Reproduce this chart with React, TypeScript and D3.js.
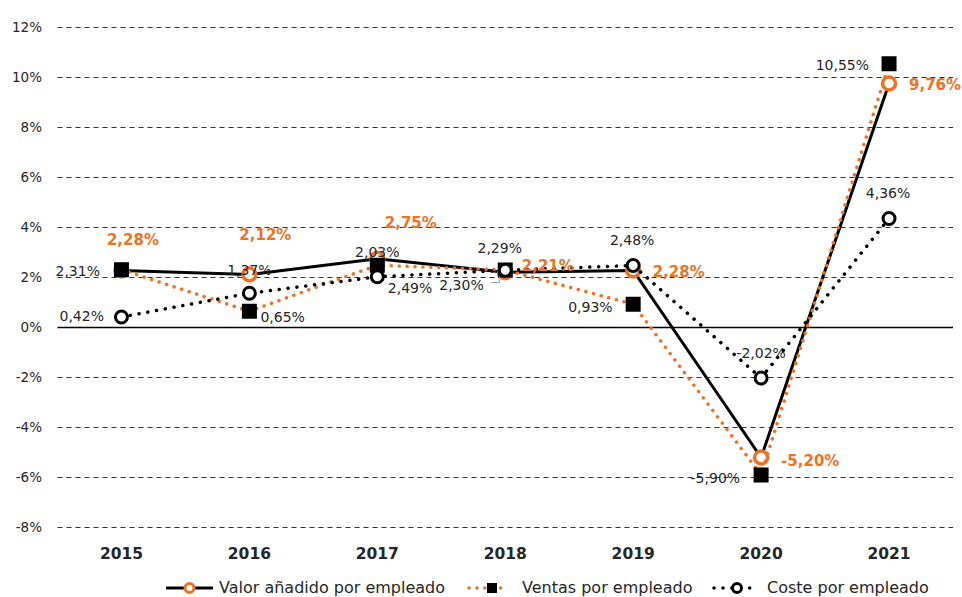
import React, { useEffect, useRef } from 'react';
import * as d3 from 'd3';

const years = ['2015', '2016', '2017', '2018', '2019', '2020', '2021'];
const valorAnadido = [2.28, 2.12, 2.75, 2.21, 2.28, -5.2, 9.76];
const ventas = [2.31, 0.65, 2.49, 2.3, 0.93, -5.9, 10.55];
const coste = [0.42, 1.37, 2.03, 2.29, 2.48, -2.02, 4.36];
const yTicks = [-8, -6, -4, -2, 0, 2, 4, 6, 8, 10, 12];
const legendLabels = ['Valor añadido por empleado', 'Ventas por empleado', 'Coste por empleado'];

// label placement relative to each point: [dx, dy, anchor]
const valorLabelPos: [number, number, string][] = [
  [11.5, -25.5, 'middle'], [16, -34.5, 'middle'], [33.5, -31, 'middle'],
  [16.5, -1, 'start'], [19.5, 6.5, 'start'], [20, 8.5, 'start'], [20, 6.5, 'start'],
];
const ventasLabelPos: [number, number, string][] = [
  [-21.5, 6, 'end'], [11, 11, 'start'], [10.5, 28, 'start'],
  [-21.5, 20, 'end'], [-20.5, 8, 'end'], [-21, 8, 'end'], [-20, 6, 'end'],
];
const costeLabelPos: [number, number, string][] = [
  [-17.5, 4, 'end'], [0, -18, 'middle'], [0, -20, 'middle'],
  [-5.5, -17, 'middle'], [-1, -20.5, 'middle'], [0, -20, 'middle'], [-1, -20.5, 'middle'],
];

const ORANGE = '#F07126';
const TEXT = '#262626';
const FONT = "'DejaVu Sans', Verdana, sans-serif";

const fmt = (v: number) => v.toFixed(2).replace('.', ',') + '%';

export default function App() {
  const svgRef = useRef<SVGSVGElement>(null);

  useEffect(() => {
    if (!svgRef.current) return;
    const svg = d3.select(svgRef.current);
    svg.selectAll('*').remove();

    const width = 962;
    const margin = { left: 57.5, right: 9, top: 27.5 };

    const x = d3.scaleBand<string>()
      .domain(years)
      .range([margin.left, width - margin.right]);
    const cx = (d: string) => x(d)! + x.bandwidth() / 2;

    const y = d3.scaleLinear().domain([-8, 12]).range([527.5, 27.5]);

    // grid lines
    svg.append('g')
      .selectAll('line')
      .data(yTicks.filter(t => t !== 0))
      .enter()
      .append('line')
      .attr('x1', margin.left)
      .attr('x2', width - margin.right)
      .attr('y1', d => y(d))
      .attr('y2', d => y(d))
      .attr('stroke', '#333')
      .attr('stroke-width', 1)
      .attr('stroke-dasharray', '5,4');

    // zero line
    svg.append('line')
      .attr('x1', margin.left)
      .attr('x2', width - margin.right)
      .attr('y1', y(0))
      .attr('y2', y(0))
      .attr('stroke', '#000')
      .attr('stroke-width', 1.5);

    // y tick labels
    svg.append('g')
      .selectAll('text')
      .data(yTicks)
      .enter()
      .append('text')
      .attr('x', 42)
      .attr('y', d => y(d))
      .attr('dy', '0.36em')
      .attr('text-anchor', 'end')
      .attr('font-family', FONT)
      .attr('font-size', 13.5)
      .attr('fill', TEXT)
      .text(d => `${d}%`);

    // x labels
    svg.append('g')
      .selectAll('text')
      .data(years)
      .enter()
      .append('text')
      .attr('x', d => cx(d))
      .attr('y', 559)
      .attr('text-anchor', 'middle')
      .attr('font-family', FONT)
      .attr('font-weight', 'bold')
      .attr('font-size', 15.5)
      .attr('fill', TEXT)
      .text(d => d);

    const line = d3.line<number>()
      .x((_, i) => cx(years[i]))
      .y(d => y(d));

    // Valor añadido: solid black line, orange open circles
    svg.append('path')
      .datum(valorAnadido)
      .attr('fill', 'none')
      .attr('stroke', '#000')
      .attr('stroke-width', 3)
      .attr('d', line);
    svg.append('g')
      .selectAll('circle')
      .data(valorAnadido)
      .enter()
      .append('circle')
      .attr('cx', (_, i) => cx(years[i]))
      .attr('cy', d => y(d))
      .attr('r', 6.5)
      .attr('fill', '#fff')
      .attr('stroke', ORANGE)
      .attr('stroke-width', 3.5);

    // Ventas: dotted orange line, black squares
    svg.append('path')
      .datum(ventas)
      .attr('fill', 'none')
      .attr('stroke', ORANGE)
      .attr('stroke-width', 3.5)
      .attr('stroke-linecap', 'round')
      .attr('stroke-dasharray', '0.1,7.8')
      .attr('d', line);
    svg.append('g')
      .selectAll('rect')
      .data(ventas)
      .enter()
      .append('rect')
      .attr('x', (_, i) => cx(years[i]) - 7.5)
      .attr('y', d => y(d) - 7.5)
      .attr('width', 15)
      .attr('height', 15)
      .attr('fill', '#000');

    // Coste: dotted black line, black open circles
    svg.append('path')
      .datum(coste)
      .attr('fill', 'none')
      .attr('stroke', '#000')
      .attr('stroke-width', 3.5)
      .attr('stroke-linecap', 'round')
      .attr('stroke-dasharray', '0.1,8.8')
      .attr('d', line);
    svg.append('g')
      .selectAll('circle')
      .data(coste)
      .enter()
      .append('circle')
      .attr('cx', (_, i) => cx(years[i]))
      .attr('cy', d => y(d))
      .attr('r', 6)
      .attr('fill', '#fff')
      .attr('stroke', '#000')
      .attr('stroke-width', 3);

    // small leader line for the 2018 ventas label
    const lx = cx('2018') - 6;
    const ly = y(ventas[3]);
    svg.append('path')
      .attr('d', `M${lx - 8},${ly + 12.5}H${lx}V${ly + 6}`)
      .attr('fill', 'none')
      .attr('stroke', '#9a9a9a')
      .attr('stroke-width', 1);

    // data labels
    const addLabels = (
      values: number[],
      pos: [number, number, string][],
      color: string,
      size: number,
      weight: string,
    ) => {
      svg.append('g')
        .selectAll('text')
        .data(values)
        .enter()
        .append('text')
        .attr('x', (_, i) => cx(years[i]) + pos[i][0])
        .attr('y', (d, i) => y(d) + pos[i][1])
        .attr('text-anchor', (_, i) => pos[i][2])
        .attr('font-family', FONT)
        .attr('font-size', size)
        .attr('font-weight', weight)
        .attr('fill', color)
        .text(d => fmt(d));
    };
    addLabels(ventas, ventasLabelPos, TEXT, 14, 'normal');
    addLabels(coste, costeLabelPos, TEXT, 14, 'normal');
    addLabels(valorAnadido, valorLabelPos, ORANGE, 15, 'bold');

    // legend
    const lg = svg.append('g').attr('font-family', FONT).attr('font-size', 16).attr('fill', TEXT);
    const legendY = 588;
    const legendBase = 593;

    lg.append('line').attr('x1', 166).attr('x2', 213).attr('y1', legendY).attr('y2', legendY)
      .attr('stroke', '#000').attr('stroke-width', 3);
    lg.append('circle').attr('cx', 189.5).attr('cy', legendY).attr('r', 4.5)
      .attr('fill', '#fff').attr('stroke', ORANGE).attr('stroke-width', 3);
    lg.append('text').attr('x', 219).attr('y', legendBase).text(legendLabels[0]);

    lg.append('line').attr('x1', 469).attr('x2', 508).attr('y1', legendY).attr('y2', legendY)
      .attr('stroke', ORANGE).attr('stroke-width', 3.5).attr('stroke-linecap', 'round')
      .attr('stroke-dasharray', '0.1,7.8');
    lg.append('rect').attr('x', 487).attr('y', legendY - 5).attr('width', 10).attr('height', 10)
      .attr('fill', '#000');
    lg.append('text').attr('x', 522).attr('y', legendBase).text(legendLabels[1]);

    lg.append('line').attr('x1', 714).attr('x2', 753).attr('y1', legendY).attr('y2', legendY)
      .attr('stroke', '#000').attr('stroke-width', 3.5).attr('stroke-linecap', 'round')
      .attr('stroke-dasharray', '0.1,8.8');
    lg.append('circle').attr('cx', 737).attr('cy', legendY).attr('r', 4.5)
      .attr('fill', '#fff').attr('stroke', '#000').attr('stroke-width', 3);
    lg.append('text').attr('x', 767).attr('y', legendBase).text(legendLabels[2]);
  }, []);

  return (
    <svg
      ref={svgRef}
      width={962}
      height={597}
      style={{ position: 'absolute', left: 0, top: 0, display: 'block', background: '#fff' }}
    />
  );
}
